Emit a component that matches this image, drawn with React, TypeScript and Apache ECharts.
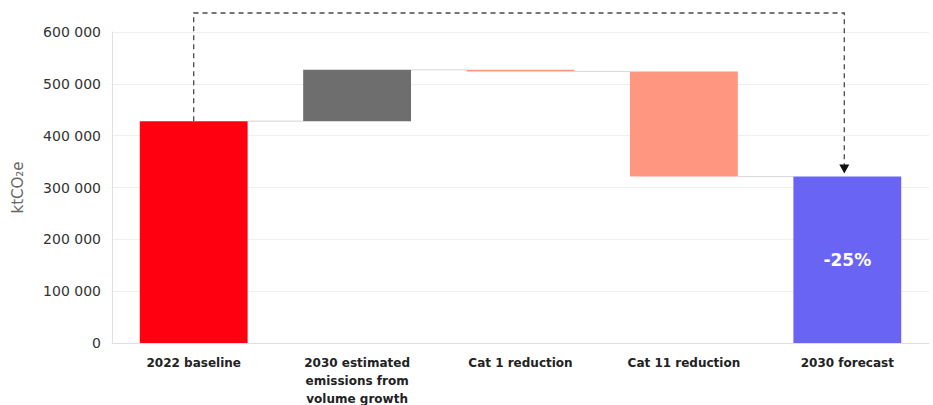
import React, { useEffect, useRef } from "react";
import * as echarts from "echarts";

const categories = [
  "2022 baseline",
  "2030 estimated\nemissions from\nvolume growth",
  "Cat 1 reduction",
  "Cat 11 reduction",
  "2030 forecast",
];
// first and last are totals, the others are changes
const changes = [428000, 99000, -3000, -203000, 321000];
const isTotal = [true, false, false, false, true];
const barColors = ["#ff0011", "#6e6e6e", "#ff9680", "#ff9680", "#6a64f5"];
const forecastLabel = "-25%";
const yTicks = [0, 100000, 200000, 300000, 400000, 500000, 600000];

export default function App() {
  const ref = useRef<HTMLDivElement>(null);
  useEffect(() => {
    document.body.style.margin = "0";
    const chart = echarts.init(ref.current!, null, { renderer: "svg" });

    const bases: number[] = [];
    const heights: number[] = [];
    const ends: number[] = [];
    let running = 0;
    changes.forEach((c, i) => {
      if (isTotal[i]) {
        bases.push(0);
        heights.push(c);
        running = c;
      } else {
        const start = running;
        const end = running + c;
        bases.push(Math.min(start, end));
        heights.push(Math.abs(c));
        running = end;
      }
      ends.push(running);
    });

    const connectorData = ends.slice(0, -1).map((v, i) => [i, v]);

    chart.setOption({
      animation: false,
      grid: {
        left: 112,
        right: 4,
        top: 32,
        bottom: 62,
        containLabel: false,
        outerBoundsMode: "none",
      },
      xAxis: {
        type: "category",
        data: categories,
        axisLine: { show: true, lineStyle: { color: "#e0e0e0" } },
        axisTick: { show: false },
        axisLabel: {
          interval: 0,
          color: "#222",
          fontFamily: "DejaVu Sans",
          fontWeight: "bold",
          fontSize: 12,
          lineHeight: 18,
          margin: 11,
        },
      },
      yAxis: {
        type: "value",
        min: 0,
        max: 600000,
        interval: 100000,
        name: "ktCO₂e",
        nameLocation: "middle",
        nameGap: 87,
        nameTextStyle: { color: "#666", fontSize: 15, fontFamily: "DejaVu Sans" },
        axisLine: { show: true, lineStyle: { color: "#e0e0e0" } },
        axisTick: { show: false },
        axisLabel: {
          color: "#333",
          fontSize: 14,
          fontFamily: "DejaVu Sans",
          margin: 11,
          formatter: (v: number) =>
            yTicks.includes(v)
              ? String(v).replace(/\B(?=(\d{3})+(?!\d))/g, " ")
              : "",
        },
        splitLine: { lineStyle: { color: "#efefef" } },
      },
      series: [
        {
          type: "bar",
          stack: "w",
          data: bases,
          itemStyle: { color: "transparent" },
          barWidth: "66%",
          silent: true,
        },
        {
          type: "bar",
          stack: "w",
          barWidth: "66%",
          data: heights.map((h, i) => ({
            value: h,
            itemStyle: { color: barColors[i] },
            label:
              i === changes.length - 1
                ? {
                    show: true,
                    position: "inside",
                    formatter: forecastLabel,
                    color: "#fff",
                    fontWeight: "bold",
                    fontSize: 17,
                    fontFamily: "DejaVu Sans",
                  }
                : { show: false },
          })),
        },
        {
          type: "custom",
          data: connectorData,
          clip: false,
          z: 1,
          renderItem: (params: any, api: any) => {
            const i = api.value(0);
            const v = api.value(1);
            const bw = api.size([1, 0])[0] * 0.66;
            const p1 = api.coord([i, v]);
            const p2 = api.coord([i + 1, v]);
            return {
              type: "line",
              shape: {
                x1: p1[0] + bw / 2,
                y1: p1[1],
                x2: p2[0] - bw / 2,
                y2: p2[1],
              },
              style: { stroke: "#d6d6d6", lineWidth: 1 },
            };
          },
        },
        {
          type: "custom",
          data: [[0, changes.length - 1]],
          clip: false,
          z: 5,
          renderItem: (params: any, api: any) => {
            const a = api.value(0);
            const b = api.value(1);
            const start = api.coord([a, ends[a]]);
            const end = api.coord([b, ends[b]]);
            const topY = params.coordSys.y - 19;
            const tipY = end[1] - 3;
            return {
              type: "group",
              children: [
                {
                  type: "polyline",
                  shape: {
                    points: [
                      [start[0], start[1]],
                      [start[0], topY],
                      [end[0] - 3, topY],
                      [end[0] - 3, tipY - 8],
                    ],
                  },
                  style: {
                    stroke: "#4a4a4a",
                    lineWidth: 1.3,
                    lineDash: [5, 4],
                    fill: null,
                  },
                },
                {
                  type: "polygon",
                  shape: {
                    points: [
                      [end[0] - 8, tipY - 9],
                      [end[0] + 2, tipY - 9],
                      [end[0] - 3, tipY],
                    ],
                  },
                  style: { fill: "#111" },
                },
              ],
            };
          },
        },
      ],
    });
    return () => chart.dispose();
  }, []);
  return <div ref={ref} style={{ width: 933, height: 405 }} />;
}
